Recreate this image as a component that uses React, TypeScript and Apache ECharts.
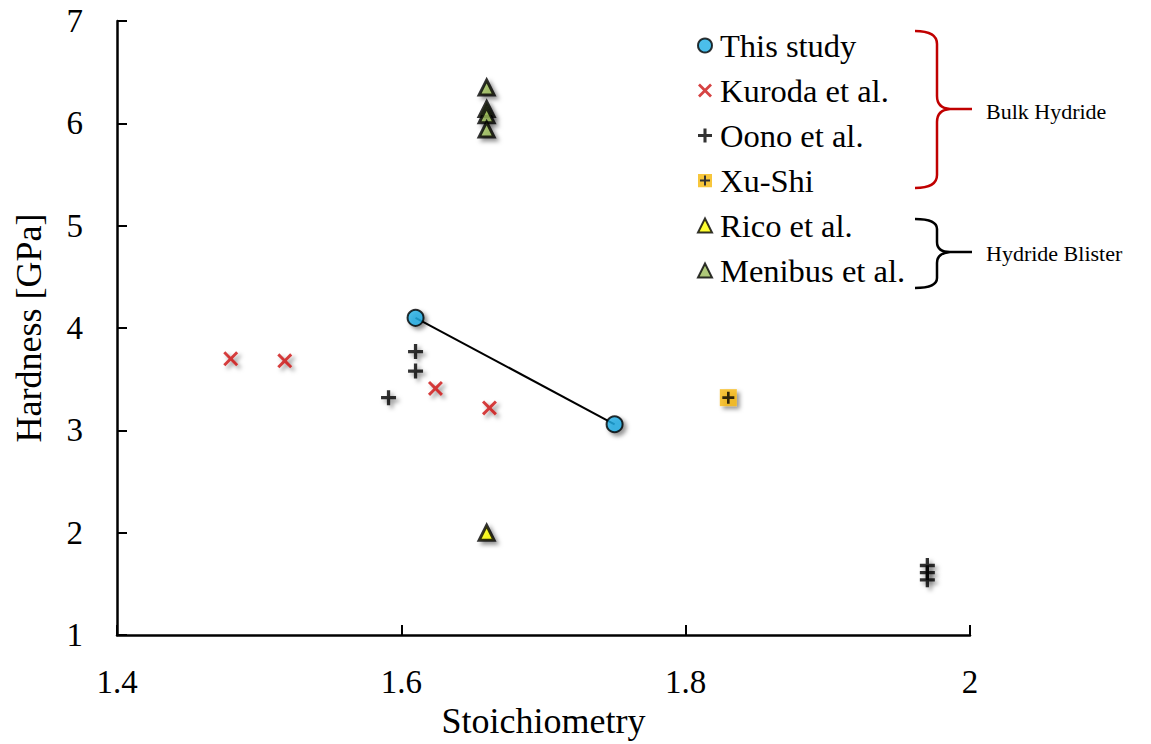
import React, { useEffect, useRef } from "react";
import * as echarts from "echarts";

const thisStudy: [number, number][] = [[1.61, 4.1], [1.75, 3.06]];
const kuroda: [number, number][] = [[1.48, 3.7], [1.518, 3.68], [1.624, 3.41], [1.662, 3.22]];
const oono: [number, number][] = [[1.61, 3.77], [1.61, 3.58], [1.591, 3.32], [1.97, 1.68], [1.97, 1.61], [1.97, 1.54]];
const xuShi: [number, number][] = [[1.83, 3.32]];
const rico: [number, number][] = [[1.66, 2.0]];
const menibus: [number, number][] = [[1.66, 6.35], [1.66, 6.14], [1.66, 6.08], [1.66, 5.94]];

const seriesNames = ["This study", "Kuroda et al.", "Oono et al.", "Xu-Shi", "Rico et al.", "Menibus et al."];
const groupLabels = ["Bulk Hydride", "Hydride Blister"];

const FONT = "'Liberation Serif', 'Times New Roman', serif";
const PLUS = "path://M3.9,0H6.1V3.9H10V6.1H6.1V10H3.9V6.1H0V3.9H3.9Z";
const CROSS = "path://M0,1.4L1.4,0L5,3.6L8.6,0L10,1.4L6.4,5L10,8.6L8.6,10L5,6.4L1.4,10L0,8.6L3.6,5Z";
const shadow = { shadowBlur: 4, shadowColor: "rgba(0,0,0,0.5)", shadowOffsetX: 3, shadowOffsetY: 3 };

const xuIconSvg =
  "<svg xmlns='http://www.w3.org/2000/svg' width='14' height='14'><rect width='14' height='14' fill='#f6b80c'/><path d='M6,2h2v4h4v2h-4v4h-2v-4h-4v-2h4z' fill='black'/></svg>";
const xuIcon = "image://data:image/svg+xml;charset=utf-8," + encodeURIComponent(xuIconSvg);

let registered = false;
function registerShapes() {
  if (registered) return;
  registered = true;
  const red =
    "M915,31 Q937,31 937,44 L937,96 Q937,108 950,109 L972,109 M950,109 Q937,110 937,122 L937,175 Q937,188 915,188";
  const black =
    "M915,219 Q937,219 937,229 L937,242 Q937,252 950,252 L972,252 M950,252 Q937,253 937,263 L937,278 Q937,288 915,288";
  echarts.graphic.registerShape("braceRed", echarts.graphic.extendPath(red, {}));
  echarts.graphic.registerShape("braceBlack", echarts.graphic.extendPath(black, {}));
}

export default function App() {
  const ref = useRef<HTMLDivElement>(null);
  useEffect(() => {
    if (!ref.current) return;
    registerShapes();
    const chart = echarts.init(ref.current, null, { renderer: "svg" });
    const axisCommon = {
      axisLine: { show: true, lineStyle: { color: "#000", width: 2.5 } },
      axisTick: { show: true, inside: true, length: 10, lineStyle: { color: "#000", width: 2 } },
      splitLine: { show: false },
      axisLabel: { color: "#000", fontFamily: FONT, fontSize: 33 },
      nameLocation: "middle" as const,
      nameTextStyle: { color: "#000", fontFamily: FONT, fontSize: 36 },
    };
    chart.setOption({
      animation: false,
      backgroundColor: "#fff",
      grid: { left: 117, right: 181, top: 21, bottom: 107, containLabel: false },
      xAxis: {
        type: "value",
        min: 1.4,
        max: 2,
        interval: 0.2,
        name: "Stoichiometry",
        nameGap: 60,
        ...axisCommon,
        axisLabel: { ...axisCommon.axisLabel, margin: 30 },
      },
      yAxis: {
        type: "value",
        min: 1,
        max: 7,
        interval: 1,
        name: "Hardness [GPa]",
        nameGap: 70,
        ...axisCommon,
        axisLabel: { ...axisCommon.axisLabel, margin: 34 },
      },
      legend: {
        orient: "vertical",
        left: 692,
        top: 24,
        itemWidth: 14,
        itemHeight: 14,
        itemGap: 12,
        textStyle: { color: "#000", fontFamily: FONT, fontSize: 32.5, lineHeight: 32.5, padding: [0, 0, 0, 3] },
        itemStyle: { shadowBlur: 0, shadowOffsetX: 0, shadowOffsetY: 0, shadowColor: "rgba(0,0,0,0)" },
        data: [
          { name: seriesNames[0], icon: "circle" },
          { name: seriesNames[1] },
          { name: seriesNames[2] },
          { name: seriesNames[3], icon: xuIcon },
          { name: seriesNames[4] },
          { name: seriesNames[5] },
        ],
      },
      series: [
        {
          name: "_conn",
          type: "line",
          data: thisStudy,
          symbol: "none",
          lineStyle: { color: "#000", width: 2 },
          z: 1,
          silent: true,
        },
        {
          name: seriesNames[0],
          type: "scatter",
          data: thisStudy,
          symbol: "circle",
          symbolSize: 16,
          itemStyle: { color: "#1eaee6", borderColor: "#000", borderWidth: 2, ...shadow },
          z: 5,
        },
        {
          name: seriesNames[1],
          type: "scatter",
          data: kuroda,
          symbol: CROSS,
          symbolSize: 15,
          itemStyle: { color: "#cc1414", ...shadow },
          z: 3,
        },
        {
          name: seriesNames[2],
          type: "scatter",
          data: oono,
          symbol: PLUS,
          symbolSize: 15,
          itemStyle: { color: "#000", ...shadow },
          z: 3,
        },
        {
          name: seriesNames[3],
          type: "scatter",
          data: xuShi,
          symbol: "rect",
          symbolSize: 17,
          itemStyle: { color: "#f6b80c", ...shadow },
          z: 3,
        },
        {
          name: "_xuPlus",
          type: "scatter",
          data: xuShi,
          symbol: PLUS,
          symbolSize: 12,
          itemStyle: { color: "#000" },
          z: 4,
        },
        {
          name: seriesNames[4],
          type: "scatter",
          data: rico,
          symbol: "triangle",
          symbolSize: 15,
          itemStyle: { color: "#ffff00", borderColor: "#000", borderWidth: 3, ...shadow },
          z: 3,
        },
        {
          name: seriesNames[5],
          type: "scatter",
          data: menibus,
          symbol: "triangle",
          symbolSize: 15,
          itemStyle: { color: "#9bbb59", borderColor: "#000", borderWidth: 3, ...shadow },
          z: 3,
        },
      ],
      graphic: [
        { type: "braceRed", x: 0, y: 0, style: { stroke: "#c00000", fill: "none", lineWidth: 2.5 } },
        { type: "braceBlack", x: 0, y: 0, style: { stroke: "#000", fill: "none", lineWidth: 2.5 } },
        {
          type: "text",
          x: 986,
          y: 111,
          style: { text: groupLabels[0], fill: "#000", font: `22px ${FONT}`, verticalAlign: "middle" },
        },
        {
          type: "text",
          x: 986,
          y: 253,
          style: { text: groupLabels[1], fill: "#000", font: `22px ${FONT}`, verticalAlign: "middle" },
        },
      ],
    });
    return () => chart.dispose();
  }, []);
  return <div ref={ref} style={{ position: "absolute", left: 0, top: 0, width: 1151, height: 744 }} />;
}
